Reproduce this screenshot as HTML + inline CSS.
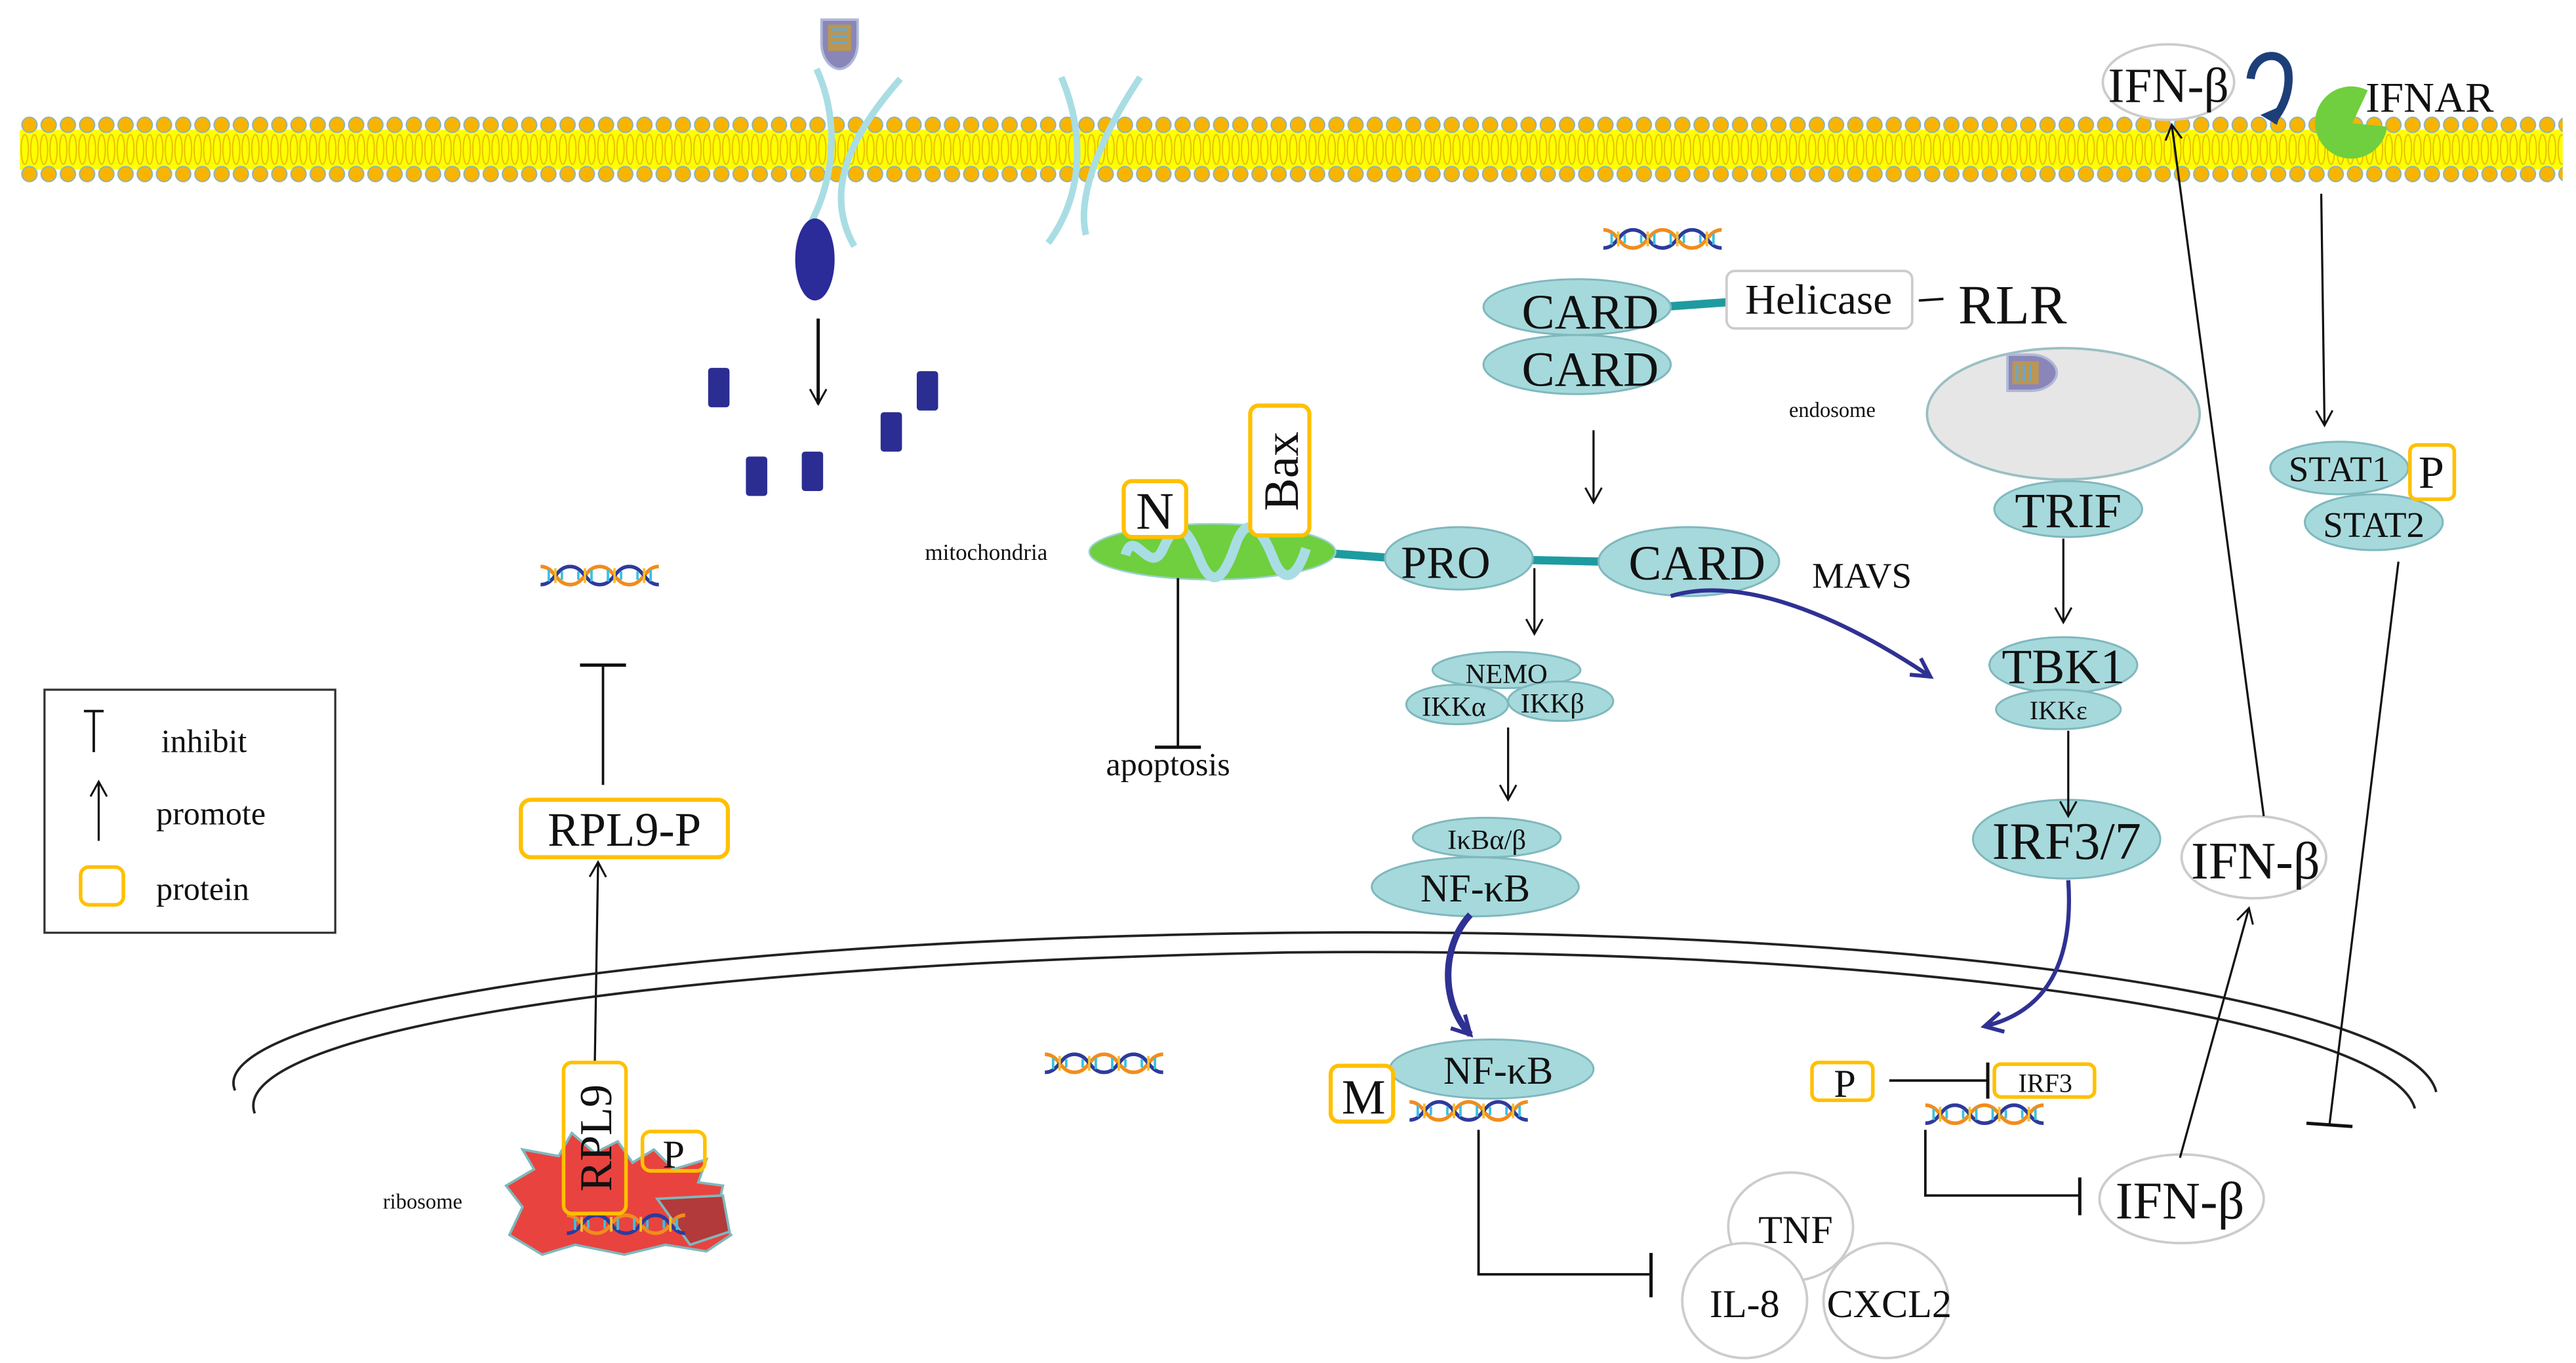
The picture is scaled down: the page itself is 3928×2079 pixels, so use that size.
<!DOCTYPE html>
<html><head><meta charset="utf-8"><style>
html,body{margin:0;padding:0;background:#fff}
svg{display:block}
text{font-family:"Liberation Serif",serif;fill:#111}
</style></head><body>
<svg width="3928" height="2079" viewBox="0 0 1568 830" xmlns="http://www.w3.org/2000/svg">
<defs>
<pattern id="mem" patternUnits="userSpaceOnUse" x="12" y="70" width="11.7" height="42">
<rect x="0" y="9" width="11.7" height="24" fill="#ffff00"/>
<ellipse cx="3" cy="21" rx="2.2" ry="9" fill="none" stroke="#e8c000" stroke-width="0.8"/>
<ellipse cx="8.8" cy="21" rx="2.2" ry="9" fill="none" stroke="#e8c000" stroke-width="0.8"/>
<circle cx="5.85" cy="6" r="4.6" fill="#f8b400" stroke="#8fb3b5" stroke-width="0.8"/>
<circle cx="5.85" cy="36" r="4.6" fill="#f8b400" stroke="#8fb3b5" stroke-width="0.8"/>
</pattern>
<g id="dna">
<path d="M0,2 C9,2 9,13 18,13 S27,2 36,2 S45,13 54,13 S63,2 72,2" fill="none" stroke="#f28c1c" stroke-width="2.2"/>
<path d="M0,13 C9,13 9,2 18,2 S27,13 36,13 S45,2 54,2 S63,13 72,13" fill="none" stroke="#2e3a9c" stroke-width="2.2"/>
<path d="M5,4 L5,11 M13,5 L13,10 M23,5 L23,10 M31,4 L31,11 M41,4 L41,11 M49,5 L49,10 M59,5 L59,10 M67,4 L67,11" stroke="#3cc0e0" stroke-width="1.5"/>
<path d="M9,3 L9,12 M27,3 L27,12 M45,3 L45,12 M63,3 L63,12" stroke="#f5c030" stroke-width="1.5"/>
</g>
<g id="virus">
<path d="M0,0 L22,0 L22,14 C22,24 16,30 11,30 C6,30 0,24 0,14 Z" fill="#8a86b8" stroke="#b0b8d8" stroke-width="1.5"/>
<rect x="4" y="3" width="14" height="16" fill="#c79a3a" opacity="0.8"/>
<path d="M6,6 h10 M6,10 h10 M6,14 h10" stroke="#6aa8c8" stroke-width="1.5"/>
</g>
<marker id="ah" markerWidth="12" markerHeight="12" refX="10" refY="6" orient="auto" markerUnits="userSpaceOnUse">
<path d="M1,1 L10,6 L1,11" fill="none" stroke="#111" stroke-width="1.2"/></marker>
<marker id="ahb" markerWidth="16" markerHeight="16" refX="13" refY="8" orient="auto" markerUnits="userSpaceOnUse">
<path d="M2,2 L13,8 L2,14" fill="none" stroke="#2f3193" stroke-width="2.4"/></marker>
</defs>

<!-- membrane -->
<rect x="12" y="70" width="1548" height="42" fill="url(#mem)"/>

<!-- virus on top -->
<use href="#virus" x="500" y="12"/>
<!-- light blue crossing shapes -->
<g fill="none" stroke="#a9dde4" stroke-width="4">
<path d="M497,42 C512,75 508,115 488,145"/>
<path d="M548,48 C520,80 500,115 520,150"/>
<path d="M646,47 C660,80 660,118 638,148"/>
<path d="M694,47 C672,80 655,118 661,143"/>
</g>
<ellipse cx="496" cy="158" rx="12" ry="25" fill="#2b2b99"/>
<line x1="498" y1="194" x2="498" y2="246" stroke="#111" stroke-width="2" marker-end="url(#ah)"/>
<g fill="#2b2d92">
<rect x="431" y="224" width="13" height="24" rx="2"/>
<rect x="558" y="226" width="13" height="24" rx="2"/>
<rect x="536" y="251" width="13" height="24" rx="2"/>
<rect x="454" y="278" width="13" height="24" rx="2"/>
<rect x="488" y="275" width="13" height="24" rx="2"/>
</g>

<!-- DNA icons -->
<use href="#dna" x="329" y="343"/>
<use href="#dna" x="976" y="138"/>
<use href="#dna" x="636" y="640"/>
<use href="#dna" x="1217" y="266"/>
<use href="#dna" x="1172" y="671"/>
<use href="#dna" x="858" y="669"/>

<!-- left: RPL9-P -->
<line x1="367" y1="478" x2="367" y2="405" stroke="#111" stroke-width="1.5"/>
<line x1="353" y1="405" x2="381" y2="405" stroke="#111" stroke-width="2"/>
<rect x="317" y="487" width="126" height="35" rx="6" fill="#fff" stroke="#ffc000" stroke-width="2.5"/>
<text x="380" y="515" font-size="29" text-anchor="middle">RPL9-P</text>
<line x1="362" y1="648" x2="364" y2="525" stroke="#111" stroke-width="1.3" marker-end="url(#ah)"/>

<!-- legend -->
<rect x="27" y="420" width="177" height="148" fill="#fff" stroke="#333" stroke-width="1.3"/>
<line x1="57" y1="433" x2="57" y2="458" stroke="#111" stroke-width="1.5"/>
<line x1="51" y1="433" x2="63" y2="433" stroke="#111" stroke-width="1.5"/>
<text x="98" y="458" font-size="20">inhibit</text>
<line x1="60" y1="512" x2="60" y2="476" stroke="#111" stroke-width="1.3" marker-end="url(#ah)"/>
<text x="95" y="502" font-size="20">promote</text>
<rect x="49" y="528" width="26" height="23" rx="5" fill="none" stroke="#ffc000" stroke-width="2.2"/>
<text x="95" y="548" font-size="20">protein</text>

<!-- nucleus envelope -->
<g fill="none" stroke="#222" stroke-width="1.5">
<path d="M143,664 C125,622 360,573 784,568 C1180,564 1470,610 1483,665"/>
<path d="M155,678 C138,632 370,588 784,580 C1180,576 1455,622 1470,675"/>
</g>

<!-- ribosome -->
<g stroke="#7fb8bd" stroke-width="1.5">
<path d="M310,752 L318,735 L308,722 L325,712 L318,700 L340,704 L348,690 L362,702 L376,695 L385,708 L398,700 L410,712 L430,706 L425,720 L440,722 L436,740 L445,752 L430,762 L405,758 L380,764 L350,758 L330,764 Z" fill="#e8433f"/>
<path d="M400,730 L440,728 L444,750 L420,758 Z" fill="#b33a3a"/>
</g>
<use href="#dna" x="345" y="738"/>
<rect x="343" y="647" width="38" height="92" rx="5" fill="none" stroke="#ffc000" stroke-width="2.2"/>
<text transform="translate(372,693) rotate(-90)" font-size="28" text-anchor="middle">RPL9</text>
<rect x="391" y="689" width="38" height="24" rx="5" fill="none" stroke="#ffc000" stroke-width="2.2"/>
<text x="410" y="711" font-size="24" text-anchor="middle">P</text>
<text x="233" y="736" font-size="13">ribosome</text>

<!-- mitochondria -->
<line x1="810" y1="337" x2="850" y2="340" stroke="#1e9ba0" stroke-width="5"/>
<ellipse cx="738" cy="336" rx="75" ry="17" fill="#6fcf3e" stroke="#9bd0d4" stroke-width="1"/>
<path d="M685,338 C690,320 700,352 708,334 S722,320 730,340 S745,352 752,332 S768,322 775,340 S790,350 795,334" fill="none" stroke="#a9dde4" stroke-width="6"/>
<text x="563" y="341" font-size="14">mitochondria</text>
<rect x="684" y="293" width="38" height="34" rx="5" fill="#fff" stroke="#ffc000" stroke-width="2.5"/>
<text x="703" y="322" font-size="32" text-anchor="middle">N</text>
<rect x="761" y="247" width="36" height="79" rx="5" fill="#fff" stroke="#ffc000" stroke-width="2.5"/>
<text transform="translate(790,287) rotate(-90)" font-size="30" text-anchor="middle">Bax</text>
<line x1="717" y1="352" x2="717" y2="455" stroke="#111" stroke-width="1.5"/>
<line x1="703" y1="455" x2="731" y2="455" stroke="#111" stroke-width="2"/>
<text x="711" y="472" font-size="20" text-anchor="middle">apoptosis</text>

<!-- MAVS -->
<line x1="930" y1="341" x2="975" y2="342" stroke="#1e9ba0" stroke-width="5"/>
<g fill="#a6d9dc" stroke="#7fb8bd" stroke-width="1.2">
<ellipse cx="888" cy="340" rx="45" ry="19"/>
<ellipse cx="1028" cy="342" rx="55" ry="21"/>
</g>
<text x="880" y="352" font-size="28" text-anchor="middle">PRO</text>
<text x="1033" y="353" font-size="30" text-anchor="middle">CARD</text>
<text x="1103" y="358" font-size="22">MAVS</text>

<!-- RLR -->
<line x1="1010" y1="187" x2="1052" y2="184" stroke="#1e9ba0" stroke-width="5"/>
<g fill="#a6d9dc" stroke="#7fb8bd" stroke-width="1.2">
<ellipse cx="960" cy="187" rx="57" ry="17"/>
<ellipse cx="960" cy="222" rx="57" ry="18"/>
</g>
<text x="968" y="200" font-size="30" text-anchor="middle">CARD</text>
<text x="968" y="235" font-size="30" text-anchor="middle">CARD</text>
<rect x="1051" y="165" width="113" height="35" rx="5" fill="#fff" stroke="#ccc" stroke-width="1.5"/>
<text x="1107" y="191" font-size="26" text-anchor="middle">Helicase</text>
<line x1="1168" y1="183" x2="1183" y2="182" stroke="#111" stroke-width="1.5"/>
<text x="1192" y="197" font-size="34">RLR</text>
<line x1="970" y1="262" x2="970" y2="306" stroke="#111" stroke-width="1.3" marker-end="url(#ah)"/>

<!-- NF-kB path -->
<line x1="934" y1="346" x2="934" y2="386" stroke="#111" stroke-width="1.3" marker-end="url(#ah)"/>
<g fill="#a6d9dc" stroke="#7fb8bd" stroke-width="1.2">
<ellipse cx="917" cy="408" rx="45" ry="11"/>
<ellipse cx="950" cy="427" rx="32" ry="12"/>
<ellipse cx="887" cy="429" rx="31" ry="12"/>
<ellipse cx="905" cy="510" rx="45" ry="12"/>
<ellipse cx="898" cy="540" rx="63" ry="18"/>
<ellipse cx="908" cy="651" rx="62" ry="18"/>
</g>
<text x="917" y="416" font-size="17" text-anchor="middle">NEMO</text>
<text x="885" y="436" font-size="17" text-anchor="middle">IKKα</text>
<text x="945" y="434" font-size="17" text-anchor="middle">IKKβ</text>
<line x1="918" y1="443" x2="918" y2="487" stroke="#111" stroke-width="1.3" marker-end="url(#ah)"/>
<text x="905" y="517" font-size="17" text-anchor="middle">IκBα/β</text>
<text x="898" y="549" font-size="24" text-anchor="middle">NF-κB</text>
<path d="M895,557 C878,575 876,610 895,630" fill="none" stroke="#2f3193" stroke-width="4" marker-end="url(#ahb)"/>
<text x="912" y="660" font-size="24" text-anchor="middle">NF-κB</text>
<rect x="810" y="649" width="38" height="34" rx="5" fill="#fff" stroke="#ffc000" stroke-width="2.5"/>
<text x="830" y="678" font-size="30" text-anchor="middle">M</text>
<polyline points="900,688 900,776 1005,776" fill="none" stroke="#111" stroke-width="1.5"/>
<line x1="1005" y1="763" x2="1005" y2="790" stroke="#111" stroke-width="2"/>
<g fill="#fff" stroke="#ccc" stroke-width="1.5">
<ellipse cx="1090" cy="747" rx="38" ry="33"/>
<ellipse cx="1062" cy="792" rx="38" ry="35"/>
<ellipse cx="1148" cy="792" rx="38" ry="35"/>
</g>
<text x="1093" y="757" font-size="24" text-anchor="middle">TNF</text>
<text x="1062" y="802" font-size="24" text-anchor="middle">IL-8</text>
<text x="1150" y="802" font-size="24" text-anchor="middle">CXCL2</text>

<!-- MAVS -> TBK1 -->
<path d="M1017,363 C1060,350 1120,375 1175,412" fill="none" stroke="#2f3193" stroke-width="2.5" marker-end="url(#ahb)"/>

<!-- endosome -->
<ellipse cx="1256" cy="252" rx="83" ry="40" fill="#e6e6e6" stroke="#9bbfc2" stroke-width="1.5"/>
<text x="1089" y="254" font-size="13">endosome</text>
<g transform="translate(1222,214) rotate(-90) translate(-24,0)"><use href="#virus" x="0" y="0"/></g>
<g fill="#a6d9dc" stroke="#7fb8bd" stroke-width="1.2">
<ellipse cx="1259" cy="310" rx="45" ry="17"/>
<ellipse cx="1256" cy="405" rx="45" ry="17"/>
<ellipse cx="1253" cy="432" rx="38" ry="12"/>
<ellipse cx="1258" cy="511" rx="57" ry="24"/>
<ellipse cx="1424" cy="285" rx="42" ry="16"/>
<ellipse cx="1445" cy="318" rx="42" ry="17"/>
</g>
<text x="1259" y="321" font-size="30" text-anchor="middle">TRIF</text>
<line x1="1256" y1="328" x2="1256" y2="379" stroke="#111" stroke-width="1.3" marker-end="url(#ah)"/>
<text x="1256" y="416" font-size="30" text-anchor="middle">TBK1</text>
<text x="1253" y="438" font-size="16" text-anchor="middle">IKKε</text>
<line x1="1259" y1="445" x2="1259" y2="497" stroke="#111" stroke-width="1.3" marker-end="url(#ah)"/>
<text x="1258" y="523" font-size="32" text-anchor="middle">IRF3/7</text>
<path d="M1259,536 C1262,580 1250,615 1208,625" fill="none" stroke="#2f3193" stroke-width="2.5" marker-end="url(#ahb)"/>

<!-- nucleus right -->
<rect x="1103" y="647" width="37" height="23" rx="4" fill="#fff" stroke="#ffc000" stroke-width="2.2"/>
<text x="1123" y="668" font-size="24" text-anchor="middle">P</text>
<line x1="1150" y1="658" x2="1210" y2="658" stroke="#111" stroke-width="1.5"/>
<line x1="1210" y1="647" x2="1210" y2="669" stroke="#111" stroke-width="2"/>
<rect x="1214" y="648" width="61" height="20" rx="4" fill="#fff" stroke="#ffc000" stroke-width="2.2"/>
<text x="1245" y="665" font-size="16" text-anchor="middle">IRF3</text>
<polyline points="1172,688 1172,728 1266,728" fill="none" stroke="#111" stroke-width="1.5"/>
<line x1="1266" y1="717" x2="1266" y2="740" stroke="#111" stroke-width="2"/>
<ellipse cx="1328" cy="730" rx="50" ry="27" fill="#fff" stroke="#ccc" stroke-width="1.5"/>
<text x="1327" y="742" font-size="32" text-anchor="middle">IFN-β</text>
<line x1="1327" y1="705" x2="1369" y2="553" stroke="#111" stroke-width="1.3" marker-end="url(#ah)"/>
<ellipse cx="1372" cy="522" rx="44" ry="25" fill="#fff" stroke="#ccc" stroke-width="1.5"/>
<text x="1373" y="535" font-size="32" text-anchor="middle">IFN-β</text>
<line x1="1378" y1="497" x2="1322" y2="76" stroke="#111" stroke-width="1.3" marker-end="url(#ah)"/>

<!-- IFN-beta / IFNAR top -->
<ellipse cx="1320" cy="50" rx="40" ry="23" fill="#fff" stroke="#ccc" stroke-width="1.5"/>
<text x="1320" y="62" font-size="30" text-anchor="middle">IFN-β</text>
<path d="M1370,48 C1372,30 1392,30 1393,45 C1394,58 1388,68 1383,74" fill="none" stroke="#1c3f7a" stroke-width="5"/>
<path d="M1376,70 L1386,76 L1390,64" fill="#1c3f7a"/>
<path d="M1432,53 A22,22 0 1 0 1452,68 L1432,75 Z" fill="#6fcf3e" transform="rotate(25 1432 75)"/>
<text x="1440" y="68" font-size="26">IFNAR</text>
<line x1="1413" y1="118" x2="1415" y2="259" stroke="#111" stroke-width="1.3" marker-end="url(#ah)"/>
<text x="1424" y="293" font-size="22" text-anchor="middle">STAT1</text>
<text x="1445" y="327" font-size="22" text-anchor="middle">STAT2</text>
<rect x="1467" y="271" width="27" height="33" rx="4" fill="#fff" stroke="#ffc000" stroke-width="2.2"/>
<text x="1480" y="297" font-size="28" text-anchor="middle">P</text>
<line x1="1460" y1="342" x2="1418" y2="685" stroke="#111" stroke-width="1.3"/>
<line x1="1404" y1="684" x2="1432" y2="686" stroke="#111" stroke-width="2"/>
</svg>
</body></html>
